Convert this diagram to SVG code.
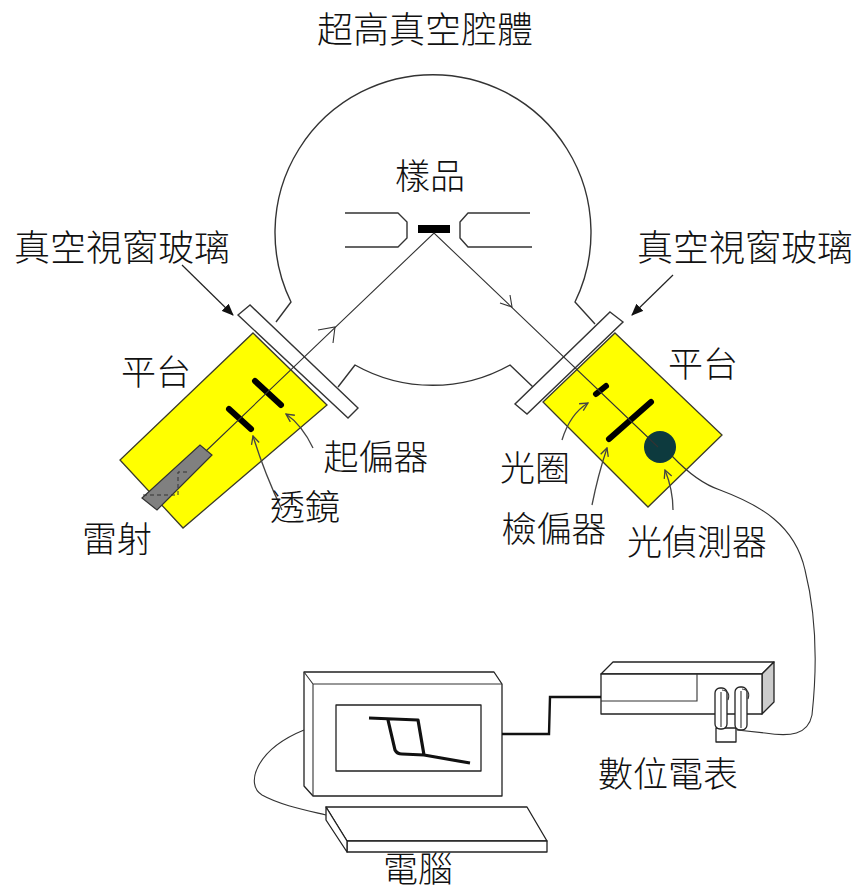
<svg xmlns="http://www.w3.org/2000/svg" width="860" height="892" viewBox="0 0 860 892">
  <style>
    .lbl { font-family: "Noto Sans CJK TC", "Noto Sans CJK SC", sans-serif; font-size: 35px; font-weight: 300; fill: #111; text-anchor: middle; }
    .ln { fill: none; stroke: #333; stroke-width: 1.4; stroke-linejoin: round; }
    .thin { fill: none; stroke: #333; stroke-width: 1.1; }
    .glass { fill: #fff; stroke: #333; stroke-width: 1.4; }
    .stage { fill: #ffff00; stroke: #3a3a2a; stroke-width: 1.3; }
    .bar { stroke: #000; stroke-width: 6; stroke-linecap: round; }
    .ptr { fill: none; stroke: #444; stroke-width: 1.3; marker-end: url(#open); }
    .call { fill: none; stroke: #222; stroke-width: 1.2; marker-end: url(#solid); }
    .box { fill: #fff; stroke: #222; stroke-width: 1.3; stroke-linejoin: round; }
  </style>
  <defs>
    <marker id="solid" viewBox="0 0 12 10" refX="11" refY="5" markerWidth="12" markerHeight="10" markerUnits="userSpaceOnUse" orient="auto">
      <path d="M0,0 L12,5 L0,10 z" fill="#111"/>
    </marker>
    <marker id="open" viewBox="0 0 10 10" refX="9" refY="5" markerWidth="10" markerHeight="10" markerUnits="userSpaceOnUse" orient="auto">
      <path d="M1,1 L9,5 L1,9" fill="none" stroke="#444" stroke-width="1.3"/>
    </marker>
  </defs>

  <rect width="860" height="892" fill="#fff"/>

  <!-- vacuum chamber -->
  <g id="chamber">
    <path class="ln" d="M276,322 L291,302 A158,158 0 1 1 575,302 L595,324"/>
    <path class="ln" d="M338,387 L355,365 A158,158 0 0 0 510,365 L533,387"/>
    <!-- sample holder jaws -->
    <path class="ln" d="M345,213 L398,213 L407,222 L407,238 L398,247 L345,247"/>
    <path class="ln" d="M530,213 L468,213 L460,222 L460,238 L468,247 L532,247"/>
    <rect x="418" y="225" width="32" height="8" fill="#000"/>
  </g>

  <!-- left stage: laser, lens, polarizer -->
  <g id="stage-left">
    <polygon class="stage" points="253,333 327,405 183,528 120,460"/>
    <polygon points="142,498 157,510 212,455 200,445" fill="#808080" stroke="#333" stroke-width="1.2"/>
    <path d="M143,495 L178,495 L178,472 L190,472" fill="none" stroke="#333" stroke-width="1" stroke-dasharray="4,3"/>
    <line class="bar" x1="229" y1="409" x2="251" y2="429"/>
    <line class="bar" x1="255" y1="381" x2="281" y2="405"/>
  </g>

  <!-- right stage: aperture, analyzer, detector -->
  <g id="stage-right">
    <polygon class="stage" points="615,333 722,435 648,507 543,402"/>
    <line class="bar" x1="596" y1="394" x2="606" y2="386"/>
    <line class="bar" x1="609" y1="439" x2="651" y2="402"/>
    <circle cx="660" cy="447" r="16" fill="#0d3a3e"/>
  </g>

  <!-- viewport windows -->
  <g id="window-left">
    <polygon class="glass" points="250,305 238,315 348,418 358,408"/>
  </g>
  <g id="window-right">
    <polygon class="glass" points="610,312 623,322 527,414 515,404"/>
  </g>

  <!-- digital meter -->
  <g id="meter">
    <polygon class="box" points="601,674 613,662 774,662 762,674"/>
    <polygon points="762,674 774,662 774,702 762,714" fill="#cccccc" stroke="#222" stroke-width="1.3" stroke-linejoin="round"/>
    <rect class="box" x="601" y="674" width="161" height="40"/>
    <path class="thin" d="M601,701 L697,701 L697,674"/>
    <rect class="box" x="716" y="728" width="20" height="14"/>
    <rect class="box" x="715" y="688" width="12" height="41" rx="5"/>
    <rect class="box" x="735" y="687" width="12" height="43" rx="5"/>
    <path class="thin" d="M721,692 L721,727 M741,691 L741,728 M722,690 Q731,691 728,700 M742,689 Q751,690 748,699"/>
  </g>

  <!-- computer -->
  <g id="computer">
    <polygon class="box" points="304,672 494,672 502,684 502,796 313,796 304,786"/>
    <path class="thin" d="M304,672 L313,684 L502,684 M313,684 L313,796"/>
    <rect class="box" x="336" y="705" width="145" height="66"/>
    <path d="M369,718 L418,720 L424,755 L470,763 M388,720 L395,750 Q397,754 402,754 L424,755" fill="none" stroke="#111" stroke-width="3.2" stroke-linejoin="round"/>
    <polygon class="box" points="326,807 527,807 547,841 347,841"/>
    <polygon class="box" points="347,841 547,841 547,852 347,852"/>
    <polygon class="box" points="326,807 347,841 347,852 326,820"/>
  </g>

  <!-- connectors: beam, cables, pointers -->
  <g id="connectors">
    <path class="thin" d="M206,451 L434,233 L658,447"/>
    <path class="thin" d="M318,330 L335,327 L333,343"/>
    <path class="thin" d="M500,303 L512,307 L510,295"/>
    <path class="thin" d="M672,456 C690,475 705,485 720,490 C760,505 795,525 805,570 C815,610 818,660 812,715 C808,735 790,737 765,733 L737,730"/>
    <path d="M502,734 L549,734 L550,697 L601,697" fill="none" stroke="#111" stroke-width="2.4"/>
    <path class="thin" d="M304,730 C255,750 245,785 262,795 C280,805 305,810 326,815"/>
    <line class="call" x1="182" y1="265" x2="233" y2="315"/>
    <line class="call" x1="673" y1="275" x2="632" y2="315"/>
    <path class="ptr" d="M313,448 Q302,425 286,414"/>
    <path class="ptr" d="M282,510 Q264,472 253,436"/>
    <path class="ptr" d="M562,440 Q570,414 588,403"/>
    <path class="ptr" d="M592,505 Q598,475 607,448"/>
    <path class="ptr" d="M673,510 Q673,490 665,470"/>
  </g>

  <!-- labels -->
  <g id="labels">
    <text class="lbl" x="425" y="43" style="font-size:36px">超高真空腔體</text>
    <text class="lbl" x="430" y="189">樣品</text>
    <text class="lbl" x="122" y="261" style="font-size:36px">真空視窗玻璃</text>
    <text class="lbl" x="745" y="261" style="font-size:36px">真空視窗玻璃</text>
    <text class="lbl" x="156" y="385">平台</text>
    <text class="lbl" x="703" y="377">平台</text>
    <text class="lbl" x="376" y="470">起偏器</text>
    <text class="lbl" x="305" y="520">透鏡</text>
    <text class="lbl" x="117" y="552">雷射</text>
    <text class="lbl" x="535" y="481">光圈</text>
    <text class="lbl" x="554" y="542">檢偏器</text>
    <text class="lbl" x="697" y="555">光偵測器</text>
    <text class="lbl" x="668" y="787">數位電表</text>
    <text class="lbl" x="418" y="882">電腦</text>
  </g>
</svg>
